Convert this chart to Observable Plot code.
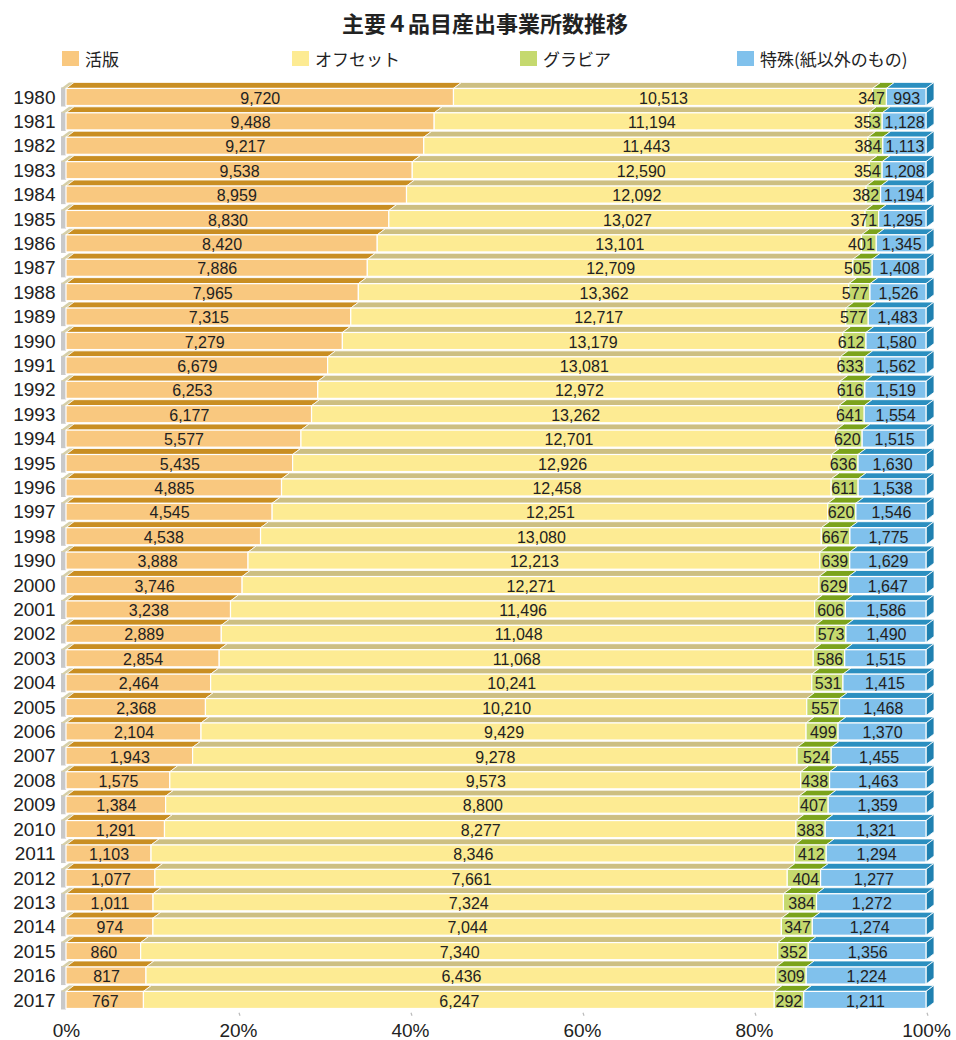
<!DOCTYPE html>
<html><head><meta charset="utf-8">
<script src="https://cdn.jsdelivr.net/npm/d3@7"></script>
<script src="https://cdn.jsdelivr.net/npm/@observablehq/plot@0.6"></script>
<style>
body{margin:0;background:#fff;width:956px;}
#title{height:44px;line-height:44px;text-align:center;font-family:"Noto Sans CJK JP";font-size:22px;font-weight:700;color:#222;padding-left:14px;box-sizing:border-box;}
#legend{position:relative;height:28px;font-family:"Noto Sans CJK JP";font-size:17px;color:#222;}
.item{position:absolute;top:0;height:28px;display:flex;align-items:center;white-space:nowrap;}
.sw{width:17px;height:15px;margin-right:6px;}
</style></head><body>
<div id="title">主要４品目産出事業所数推移</div>
<div id="legend"></div>
<div id="chart"></div>
<script>
// ---- data ----
const years = ["1980","1981","1982","1983","1984","1985","1986","1987","1988","1989","1990","1991","1992","1993","1994","1995","1996","1997","1998","1990","2000","2001","2002","2003","2004","2005","2006","2007","2008","2009","2010","2011","2012","2013","2014","2015","2016","2017"];
const katsuban = [9720,9488,9217,9538,8959,8830,8420,7886,7965,7315,7279,6679,6253,6177,5577,5435,4885,4545,4538,3888,3746,3238,2889,2854,2464,2368,2104,1943,1575,1384,1291,1103,1077,1011,974,860,817,767];
const offsetP = [10513,11194,11443,12590,12092,13027,13101,12709,13362,12717,13179,13081,12972,13262,12701,12926,12458,12251,13080,12213,12271,11496,11048,11068,10241,10210,9429,9278,9573,8800,8277,8346,7661,7324,7044,7340,6436,6247];
const gravure = [347,353,384,354,382,371,401,505,577,577,612,633,616,641,620,636,611,620,667,639,629,606,573,586,531,557,499,524,438,407,383,412,404,384,347,352,309,292];
const tokushu = [993,1128,1113,1208,1194,1295,1345,1408,1526,1483,1580,1562,1519,1554,1515,1630,1538,1546,1775,1629,1647,1586,1490,1515,1415,1468,1370,1455,1463,1359,1321,1294,1277,1272,1274,1356,1224,1211];
const seriesNames = ["活版","オフセット","グラビア","特殊(紙以外のもの)"];
const xTicks = [0,0.2,0.4,0.6,0.8,1];

// ---- styles ----
const frontColors = ["#f9c87f","#fdeb93","#c5d96e","#80c1ec"];
const topColors = ["#c98e22","#cdbf82","#7ba31c","#2b8fc0"];
const sideColor = "#1f80b0";
const DX = 8, DY = 6, PAD = 0.3;

// legend
const legendX = [62,292,520,737];
const lg = document.getElementById("legend");
seriesNames.forEach((n,i)=>{
  const it = document.createElement("div");
  it.className="item"; it.style.left = legendX[i]+"px";
  it.innerHTML = `<span class="sw" style="background:${frontColors[i]}"></span><span>${n}</span>`;
  lg.appendChild(it);
});

// derived stacked table
const series = [katsuban, offsetP, gravure, tokushu];
const rowKeys = years.map((_,i)=>String(i));
const segs = [];
years.forEach((yr,i)=>{
  const total = d3.sum(series, s=>s[i]);
  let acc = 0;
  series.forEach((s,k)=>{
    const x1 = acc/total; acc += s[i];
    segs.push({row:String(i), k, cat:seriesNames[k], value:s[i], x1, x2:acc/total, mid:(x1+acc/total)/2});
  });
});
const fmt = d3.format(",");

function faces(index, scales, values, dimensions) {
  const x = scales.x, y = scales.y;
  const step = (dimensions.height - dimensions.marginTop - dimensions.marginBottom)/(years.length + PAD);
  const bw = typeof y.bandwidth === "function" ? y.bandwidth() : step*(1-PAD);
  const g = d3.create("svg:g");
  const x0 = x(0);
  // wall
  rowKeys.forEach(r=>{
    const yt = y(r);
    g.append("rect").attr("x", x0-5).attr("y", yt-1).attr("width",5).attr("height", bw+2).attr("fill","#c9c9c9");
    g.append("polygon").attr("points", `${x0-5},${yt} ${x0},${yt} ${x0+DX},${yt-DY} ${x0+DX-5},${yt-DY}`).attr("fill","#d6cfa8");
  });
  segs.forEach(d=>{
    const yt = y(d.row);
    const a = x(d.x1), b = x(d.x2);
    g.append("polygon").attr("points", `${a},${yt} ${b},${yt} ${b+DX},${yt-DY} ${a+DX},${yt-DY}`)
      .attr("fill", topColors[d.k]).attr("stroke","white").attr("stroke-width",0.8);
    if (d.k === 3) {
      g.append("polygon").attr("points", `${b},${yt} ${b+DX},${yt-DY} ${b+DX},${yt+bw-DY} ${b},${yt+bw}`)
        .attr("fill", sideColor).attr("stroke","white").attr("stroke-width",0.8);
    }
  });
  // small ticks
  const yEnd = dimensions.height - dimensions.marginBottom;
  xTicks.forEach(t=>{
    if (t===0) return;
    g.append("line").attr("x1", x(t)+1).attr("x2", x(t)+2).attr("y1", yEnd-3).attr("y2", yEnd).attr("stroke","#bbb").attr("stroke-width",1.2);
  });
  return g.node();
}

const chart = Plot.plot({
  width: 956, height: 968,
  marginLeft: 66, marginRight: 30, marginTop: 9.1, marginBottom: 24.2,
  x: {domain: [0,1]},
  y: {domain: rowKeys, padding: PAD, round: false},
  color: {type: "ordinal", domain: seriesNames, range: frontColors},
  style: {fontFamily: "Liberation Sans", color: "#222", background: "white"},
  marks: [
    faces,
    Plot.barX(segs, {x1:"x1", x2:"x2", y:"row", fill:"cat", stroke:"white", strokeWidth:1.2}),
    Plot.text(segs.filter(d=>d.k!==2), {x:"mid", y:"row", text:d=>fmt(d.value), fontSize:16, fill:"#222", dy:1}),
    Plot.text(segs.filter(d=>d.k===2), {x:"x2", y:"row", text:d=>fmt(d.value), fontSize:16, fill:"#222", dy:1, dx:-2, textAnchor:"end"}),
    Plot.axisY({tickSize:0, tickPadding:11, tickFormat:k=>years[+k], fontSize:19, label:null}),
    Plot.axisX(xTicks, {tickSize:0, tickPadding:7, tickFormat:d=>Math.round(d*100)+"%", fontSize:19, label:null})
  ]
});
document.getElementById("chart").appendChild(chart);
</script>
</body></html>
